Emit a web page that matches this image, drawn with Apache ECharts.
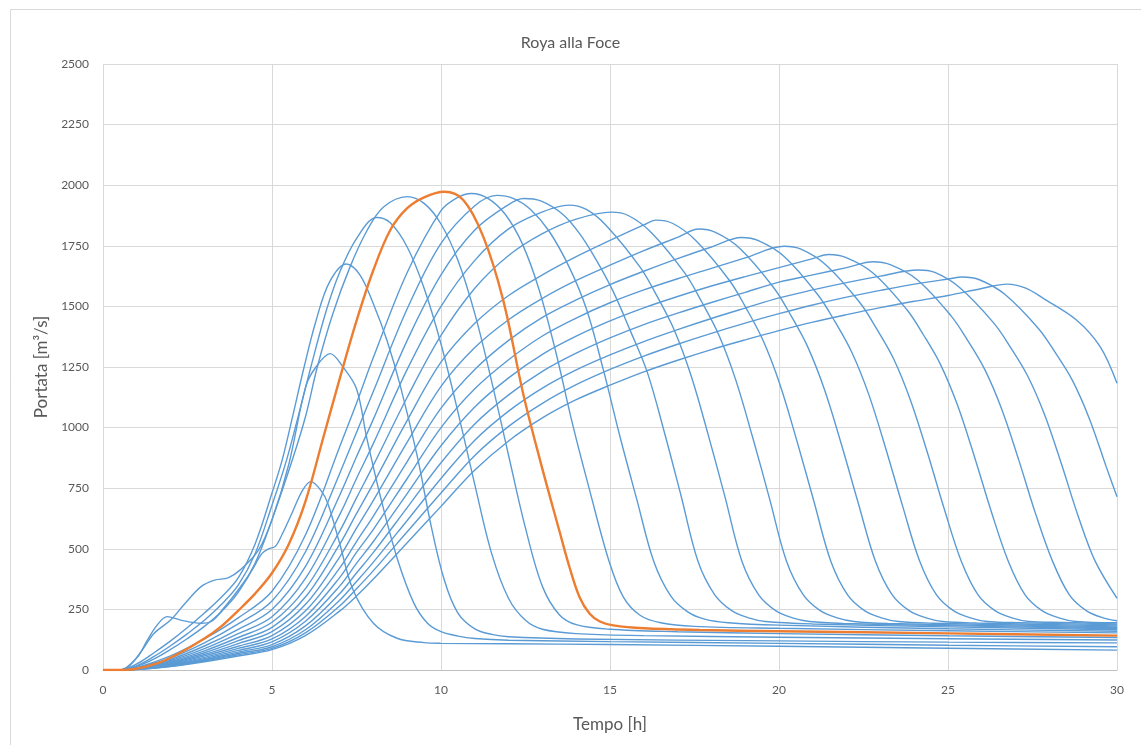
<!DOCTYPE html>
<html>
<head>
<meta charset="utf-8">
<script src="https://cdn.jsdelivr.net/npm/echarts@6/dist/echarts.min.js"></script>
<style>
html,body{margin:0;padding:0;background:#fff;}
#chart{width:1141px;height:745px;}
</style>
</head>
<body>
<div id="chart"></div>
<script>
// Hydrographs: [time h, discharge m3/s]
const h01 = [[0,0],[0.5,0],[1.0,50],[1.3,120],[1.6,185],[1.9,220],[2.3,206],[2.9,193],[3.2,200],[3.6,260],[4.0,330],[4.4,410],[4.7,480],[4.9,500],[5.1,510],[5.3,560],[5.6,650],[5.9,740],[6.15,777],[6.45,740],[6.65,688],[7.0,523],[7.4,330],[8.0,193],[8.7,131],[9.5,113],[10,110],[12,108],[15,105],[20,98],[25,90],[30,82]];
const h02 = [[0,0],[0.5,0],[0.8,20],[1.2,90],[1.5,150],[2.0,206],[2.4,270],[2.9,344],[3.3,371],[3.7,380],[4.05,412],[4.6,495],[5.0,620],[5.5,850],[6.0,1170],[6.3,1250],[6.72,1305],[7.1,1250],[7.5,1160],[7.8,960],[8.2,720],[8.7,462],[9.2,275],[9.6,193],[10.0,158],[10.5,140],[11,130],[12,123],[15,117],[20,110],[25,102],[30,96]];
const h03 = [[0,0],[0.5,0],[1,25],[1.5,70],[2,120],[2.5,175],[3,235],[3.5,300],[4,380],[4.5,520],[5,730],[5.3,866],[5.6,1040],[5.95,1250],[6.3,1440],[6.7,1600],[7.2,1675],[7.6,1630],[8.0,1510],[8.4,1360],[8.8,1170],[9.3,880],[9.7,600],[10.1,370],[10.5,235],[11,170],[11.5,147],[12,137],[14,128],[20,120],[25,115],[30,112]];
const h04 = [[0,0],[0.5,0],[1,18],[1.5,55],[2,100],[2.5,150],[3,205],[3.5,270],[4,350],[4.5,480],[5,680],[5.43,866],[5.8,1060],[6.15,1250],[6.6,1480],[7.0,1640],[7.5,1780],[8.1,1867],[8.5,1845],[9.0,1745],[9.5,1575],[10,1345],[10.5,1065],[11,765],[11.5,480],[12,295],[12.5,205],[13,168],[14,150],[16,142],[20,135],[25,129],[30,124]];
const h05 = [[0,0],[0.5,0],[1,15],[1.5,45],[2,85],[2.5,130],[3,180],[3.5,240],[4,320],[4.5,440],[5,620],[5.6,866],[6.0,1050],[6.34,1250],[6.8,1470],[7.3,1660],[7.8,1810],[8.3,1910],[9.0,1953],[9.5,1925],[10,1840],[10.5,1690],[11,1470],[11.5,1190],[12,885],[12.5,585],[13,345],[13.5,228],[14,187],[15,168],[17,158],[20,150],[25,141],[30,134]];
const h06 = [[0,0],[0.5,0],[0.9,3],[1.6,27],[2.2,65],[3.0,130],[3.5,180],[4.0,245],[4.5,315],[5.0,400],[5.5,520],[6.0,700],[6.5,950],[7.0,1200],[7.5,1440],[8.0,1650],[8.5,1815],[9.0,1905],[9.5,1950],[10.1,1973],[10.66,1939],[11.25,1788],[11.84,1526],[12.43,1141],[12.93,866],[13.52,565],[13.8,425],[14.1,300],[14.4,232],[14.7,200],[15.1,184],[16,172],[17.66,165],[20,160],[25,151],[30,142]];
const h07 = [[0,0],[0.5,0],[1,10],[2,58],[3,128],[4,215],[5,325],[6,560],[7,920],[7.5,1100],[8,1290],[9,1640],[10,1895],[10.5,1950],[10.9,1966],[11.4,1945],[11.9,1880],[12.4,1760],[12.9,1570],[13.4,1310],[13.9,1010],[14.4,740],[14.97,450],[15.4,300],[15.9,225],[16.5,195],[17.5,180],[20,172],[25,162],[30,153]];
const h08 = [[0,0],[0.5,0],[1,9],[2,50],[3,112],[4,190],[5,285],[6,490],[7,810],[7.5,980],[8,1150],[9,1490],[10,1760],[11,1915],[11.65,1958],[12.15,1945],[12.65,1900],[13.2,1810],[13.8,1660],[14.3,1490],[14.8,1240],[15.3,960],[15.8,700],[16.29,450],[16.8,305],[17.3,240],[17.8,210],[18.5,195],[20,185],[25,170],[30,160]];
const h09 = [[0,0],[0.5,0],[1,8],[2,44],[3,99],[4,168],[5,250],[6,430],[7,720],[7.5,880],[8,1035],[9,1360],[10,1630],[11,1815],[12,1920],[12.45,1945],[12.95,1935],[13.6,1880],[14.1,1800],[14.6,1690],[15.1,1560],[15.6,1400],[16.1,1230],[16.6,985],[17.1,720],[17.6,450],[18.1,310],[18.6,245],[19.1,215],[19.6,200],[21,190],[25,178],[30,166]];
const h10 = [[0,0],[0.5,0],[1,7],[2,39],[3,88],[4,150],[5,220],[6,380],[7,640],[7.5,790],[8,935],[9,1240],[10,1500],[11,1690],[12,1820],[13,1890],[13.78,1918],[14.3,1900],[14.9,1832],[15.9,1660],[16.4,1540],[16.9,1403],[17.4,1214],[17.9,973],[18.4,715],[18.9,450],[19.4,310],[19.9,245],[20.4,215],[20.9,200],[21.9,192],[25,183],[30,170]];
const h11 = [[0,0],[0.5,0],[1,6],[2,35],[3,79],[4,134],[5,197],[6,338],[7,572],[7.5,710],[8,845],[9,1125],[10,1380],[11,1575],[12,1710],[13,1800],[14,1860],[15.04,1889],[15.54,1875],[16.22,1805],[17.22,1636],[17.72,1517],[18.22,1382],[18.72,1197],[19.22,960],[19.72,707],[20.22,450],[20.72,310],[21.22,245],[21.72,215],[22.22,200],[23.22,192],[30,174]];
const h12 = [[0,0],[0.5,0],[1,5],[2,31],[3,71],[4,121],[5,176],[6,303],[7,518],[7.5,645],[8,770],[9,1030],[10,1270],[11,1430],[12,1545],[13,1630],[14,1705],[15,1772],[16,1836],[16.36,1856],[16.86,1842],[17.53,1773],[18.53,1608],[19.03,1492],[19.53,1359],[20.03,1177],[20.53,945],[21.03,697],[21.53,450],[22.03,310],[22.53,245],[23.03,215],[23.53,200],[24.53,193],[30,178]];
const h13 = [[0,0],[0.5,0],[1,5],[2,28],[3,64],[4,109],[5,158],[6,272],[7,466],[7.5,585],[8,700],[9,940],[10,1170],[11,1330],[12,1445],[13,1533],[14,1607],[15,1670],[16,1730],[17,1785],[17.62,1819],[18.12,1805],[18.85,1738],[19.85,1576],[20.35,1463],[20.85,1333],[21.35,1155],[21.85,929],[22.35,686],[22.85,450],[23.35,310],[23.85,245],[24.35,215],[24.85,200],[25.85,194],[30,182]];
const h14 = [[0,0],[0.5,0],[1,4],[2,25],[3,58],[4,98],[5,142],[6,245],[7,420],[7.5,530],[8,635],[9,860],[10,1080],[11,1240],[12,1360],[13,1455],[14,1527],[15,1590],[16,1645],[17,1697],[18,1745],[18.89,1784],[19.39,1771],[20.16,1705],[21.16,1546],[21.66,1436],[22.16,1309],[22.66,1135],[23.16,913],[23.66,675],[24.16,450],[24.66,310],[25.16,245],[25.66,215],[26.16,200],[27.16,195],[30,186]];
const h15 = [[0,0],[0.5,0],[1,4],[2,23],[3,52],[4,89],[5,128],[6,222],[7,381],[7.5,485],[8,580],[9,790],[10,1000],[11,1160],[12,1280],[13,1378],[14,1452],[15,1515],[16,1568],[17,1614],[18,1657],[19,1700],[20.15,1748],[20.65,1736],[21.39,1671],[22.39,1516],[22.89,1407],[23.39,1284],[23.89,1113],[24.39,897],[24.89,664],[25.39,450],[25.89,310],[26.39,245],[26.89,215],[27.39,200],[28.39,196],[30,190]];
const h16 = [[0,0],[0.5,0],[1,3],[2,21],[3,47],[4,81],[5,116],[6,202],[7,346],[7.5,440],[8,530],[9,728],[10,925],[11,1085],[12,1205],[13,1302],[14,1377],[15,1440],[16,1494],[17,1541],[18,1584],[19,1623],[20,1660],[21,1697],[21.47,1714],[21.97,1702],[22.78,1638],[23.78,1487],[24.28,1381],[24.78,1260],[25.28,1093],[25.78,881],[26.28,654],[26.78,450],[27.28,310],[27.78,245],[28.28,215],[28.78,200],[30,195]];
const h17 = [[0,0],[0.5,0],[1,3],[2,19],[3,43],[4,74],[5,105],[6,183],[7,315],[7.5,400],[8,485],[9,670],[10,855],[11,1015],[12,1135],[13,1232],[14,1307],[15,1370],[16,1425],[17,1472],[18,1516],[19,1558],[20,1600],[21,1630],[22,1660],[22.79,1684],[23.29,1672],[24.09,1610],[25.09,1461],[25.59,1358],[26.09,1239],[26.59,1076],[27.09,868],[27.59,645],[28.09,450],[28.59,310],[29.09,245],[29.59,215],[30,203]];
const h18 = [[0,0],[0.5,0],[1,3],[2,17],[3,40],[4,68],[5,96],[6,167],[7,288],[7.5,365],[8,445],[9,617],[10,790],[11,948],[12,1068],[13,1163],[14,1238],[15,1300],[16,1355],[17,1404],[18,1450],[19,1493],[20,1535],[21,1568],[22,1598],[23,1625],[24.11,1650],[24.61,1640],[25.35,1577],[26.35,1432],[26.85,1331],[27.35,1215],[27.85,1056],[28.35,853],[28.85,635],[29.35,450],[30,296]];
const h19 = [[0,0],[0.5,0],[1,2],[2,15],[3,37],[4,63],[5,89],[6,154],[7,264],[7.5,335],[8,410],[9,570],[10,730],[11,885],[12,1005],[13,1100],[14,1177],[15,1240],[16,1295],[17,1344],[18,1389],[19,1431],[20,1470],[21,1506],[22,1538],[23,1566],[24,1592],[25,1613],[25.43,1621],[25.93,1610],[26.68,1550],[27.68,1408],[28.18,1308],[28.68,1195],[29.18,1038],[29.68,839],[30,715]];
const h20 = [[0,0],[0.5,0],[1,2],[2,14],[3,34],[4,58],[5,84],[6,143],[7,243],[7.5,305],[8,375],[9,525],[10,675],[11,825],[12,945],[13,1040],[14,1115],[15,1175],[16,1230],[17,1278],[18,1322],[19,1362],[20,1400],[21,1435],[22,1466],[23,1495],[24,1521],[25,1545],[26,1574],[26.75,1592],[27.3,1575],[27.82,1533],[28.8,1444],[29.5,1334],[30,1183]];

const blueCurves = [h01,h02,h03,h04,h05,h07,h08,h09,h10,h11,h12,h13,h14,h15,h16,h17,h18,h19,h20];
const orangeCurve = h06;

const xTicks = [0,5,10,15,20,25,30];
const yTicks = [0,250,500,750,1000,1250,1500,1750,2000,2250,2500];

const BLUE = '#5B9BD5', ORANGE = '#ED7D31', TXT = '#595959', GRID = '#D9D9D9';
const FONT = 'Lato, "Open Sans", sans-serif';

const series = blueCurves.map((d, i) => ({
  type: 'line', name: 'q' + i, data: d, smooth: 0.35, showSymbol: false,
  lineStyle: { color: BLUE, width: 1.4 }, z: 2, silent: true
}));
series.push({
  type: 'line', name: 'orange', data: orangeCurve, smooth: 0.35, showSymbol: false,
  lineStyle: { color: ORANGE, width: 2.4 }, z: 3, silent: true
});

const chart = echarts.init(document.getElementById('chart'), null, { renderer: 'canvas' });
chart.setOption({
  animation: false,
  backgroundColor: '#fff',
  textStyle: { fontFamily: FONT },
  title: {
    text: 'Roya alla Foce', left: 'center', top: 30,
    textStyle: { fontFamily: FONT, fontSize: 16, fontWeight: 'normal', color: TXT }
  },
  graphic: [{
    type: 'rect', left: 8, top: 7, shape: { width: 1200, height: 800 },
    style: { fill: 'none', stroke: GRID, lineWidth: 1 }, silent: true, z: -1
  }],
  grid: { left: 103, right: 24, top: 64, bottom: 75 },
  xAxis: {
    type: 'value', min: xTicks[0], max: xTicks[xTicks.length - 1], interval: 5,
    name: 'Tempo [h]', nameLocation: 'middle', nameGap: 46,
    nameTextStyle: { fontFamily: FONT, fontSize: 17, color: TXT },
    axisLine: { lineStyle: { color: '#BFBFBF', width: 1 } },
    axisTick: { show: false },
    axisLabel: { color: TXT, fontSize: 12, margin: 14, fontFamily: FONT, formatter: v => String(v) },
    splitLine: { show: true, lineStyle: { color: GRID, width: 1 } }
  },
  yAxis: {
    type: 'value', min: yTicks[0], max: yTicks[yTicks.length - 1], interval: 250,
    name: 'Portata [m³/s]', nameLocation: 'middle', nameGap: 52, nameRotate: 90,
    nameTextStyle: { fontFamily: FONT, fontSize: 17, color: TXT },
    axisLine: { show: false }, axisTick: { show: false },
    axisLabel: { color: TXT, fontSize: 12, margin: 14, fontFamily: FONT, formatter: v => String(v) },
    splitLine: { show: true, lineStyle: { color: GRID, width: 1 } }
  },
  series: series
});
</script>
</body>
</html>
